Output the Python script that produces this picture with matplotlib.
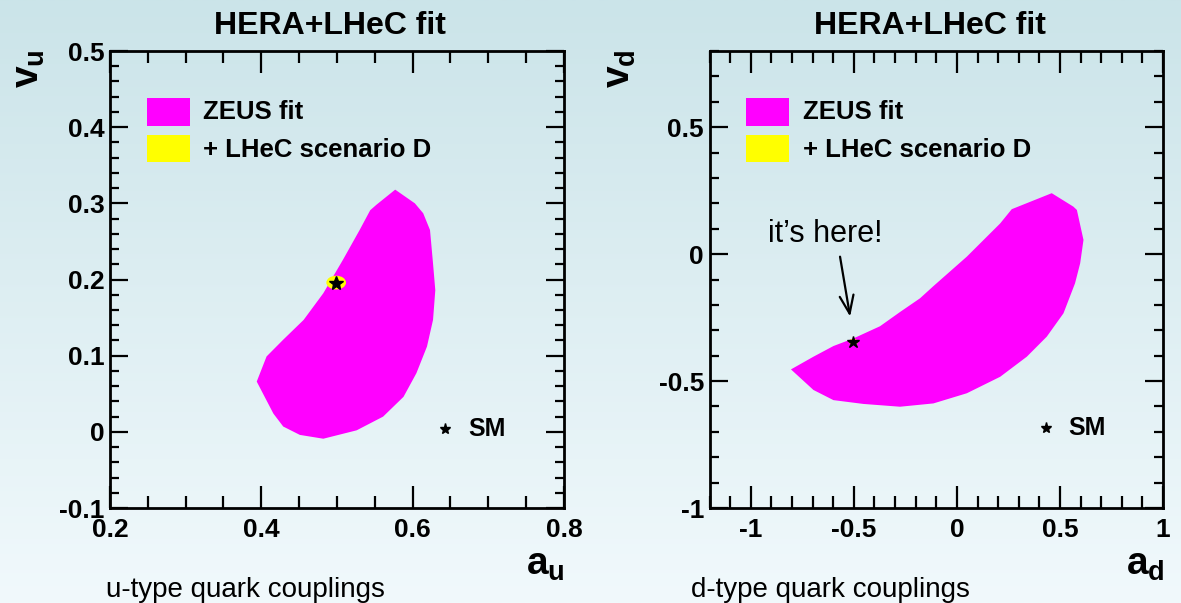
import numpy as np
import matplotlib
matplotlib.use("Agg")
import matplotlib.pyplot as plt
from matplotlib.colors import LinearSegmentedColormap
from matplotlib.patches import Polygon, Ellipse, Rectangle
from matplotlib.ticker import MultipleLocator, FuncFormatter

plt.rcParams['font.family'] = ['Liberation Sans', 'DejaVu Sans']
plt.rcParams['axes.unicode_minus'] = False
plt.rcParams['mathtext.fontset'] = 'custom'
plt.rcParams['mathtext.rm'] = 'Liberation Sans:bold'
plt.rcParams['mathtext.bf'] = 'Liberation Sans:bold'
plt.rcParams['mathtext.it'] = 'Liberation Sans:bold'

# --- data ---
# ZEUS fit contour, u-type (a_u, v_u)
zeus_u_a = [0.577, 0.603, 0.614, 0.623, 0.627, 0.630, 0.627, 0.619, 0.605, 0.588,
            0.561, 0.526, 0.482, 0.451, 0.429, 0.416, 0.394, 0.407, 0.429, 0.456,
            0.482, 0.508, 0.530, 0.544, 0.552]
zeus_u_v = [0.318, 0.300, 0.287, 0.265, 0.221, 0.186, 0.147, 0.112, 0.077, 0.046,
            0.020, 0.002, -0.009, -0.004, 0.007, 0.024, 0.066, 0.099, 0.121, 0.147,
            0.182, 0.226, 0.265, 0.291, 0.298]
# ZEUS fit contour, d-type (a_d, v_d)
zeus_d_a = [0.460, 0.565, 0.582, 0.614, 0.598, 0.573, 0.517, 0.436, 0.339, 0.210,
            0.048, -0.114, -0.276, -0.454, -0.599, -0.696, -0.805, -0.696, -0.599,
            -0.502, -0.373, -0.276, -0.179, -0.114, 0.048, 0.210, 0.266]
zeus_d_v = [0.240, 0.187, 0.174, 0.056, -0.036, -0.115, -0.233, -0.325, -0.404, -0.483,
            -0.548, -0.588, -0.601, -0.590, -0.575, -0.535, -0.454, -0.404, -0.362,
            -0.332, -0.284, -0.228, -0.174, -0.126, -0.010, 0.121, 0.177]
# LHeC scenario D ellipses: centre and full widths
lhec_u = (0.499, 0.196, 0.026, 0.018)
lhec_d = (-0.502, -0.345, 0.045, 0.022)
# Standard Model points
sm_u = (0.499, 0.196)
sm_d = (-0.502, -0.345)
# SM key markers
sm_key_u = (0.643, 0.004)
sm_key_d = (0.433, -0.686)
# annotation arrow (start, tip)
arrow_d = ((-0.567, -0.010), (-0.518, -0.246))

fig = plt.figure(figsize=(11.81, 6.03), dpi=100)

# gradient background
bg = fig.add_axes([0, 0, 1, 1], zorder=-10)
grad = LinearSegmentedColormap.from_list("bg", ['#f1f9fc', '#cbe4e9'])
bg.imshow(np.linspace(0, 1, 256).reshape(-1, 1), aspect='auto', cmap=grad,
          origin='lower', extent=[0, 1, 0, 1])
bg.axis('off')


def fmt(v, pos):
    return "%g" % round(v, 6)


def style_axes(ax, xlim, ylim, xmaj, xmin, ymaj, ymin):
    ax.set_facecolor('none')
    ax.set_xlim(*xlim)
    ax.set_ylim(*ylim)
    ax.xaxis.set_major_locator(MultipleLocator(xmaj))
    ax.xaxis.set_minor_locator(MultipleLocator(xmin))
    ax.yaxis.set_major_locator(MultipleLocator(ymaj))
    ax.yaxis.set_minor_locator(MultipleLocator(ymin))
    ax.xaxis.set_major_formatter(FuncFormatter(fmt))
    ax.yaxis.set_major_formatter(FuncFormatter(fmt))
    ax.tick_params(which='both', direction='in', top=True, right=True, width=1.6,
                   labelsize=19)
    ax.tick_params(axis='x', which='major', length=16, pad=7)
    ax.tick_params(axis='x', which='minor', length=8.5)
    ax.tick_params(axis='y', which='major', length=13, pad=4)
    ax.tick_params(axis='y', which='minor', length=6.5)
    for lab in ax.get_xticklabels() + ax.get_yticklabels():
        lab.set_fontweight('bold')
    for s in ax.spines.values():
        s.set_linewidth(2)


def legend_boxes(ax):
    ax.add_patch(Rectangle((0.081, 0.837), 0.095, 0.06, transform=ax.transAxes,
                           fc='#ff00ff', ec='none'))
    ax.add_patch(Rectangle((0.081, 0.757), 0.095, 0.06, transform=ax.transAxes,
                           fc='#ffff00', ec='none'))
    ax.text(0.206, 0.866, "ZEUS fit", transform=ax.transAxes, fontsize=18.5,
            fontweight='bold', va='center', ha='left')
    ax.text(0.206, 0.784, "+ LHeC scenario D", transform=ax.transAxes, fontsize=18.5,
            fontweight='bold', va='center', ha='left')


# ---- left panel: u-type ----
ax1 = fig.add_axes([0.0931, 0.1575, 0.3844, 0.7579])
style_axes(ax1, (0.2, 0.8), (-0.1, 0.5), 0.2, 0.05, 0.1, 0.02)
ax1.add_patch(Polygon(np.column_stack([zeus_u_a, zeus_u_v]), closed=True,
                      fc='#ff00ff', ec='none'))
ax1.add_patch(Ellipse(lhec_u[:2], lhec_u[2], lhec_u[3], fc='#ffff00', ec='none'))
ax1.plot(*sm_u, marker='*', color='black', markersize=10)
ax1.plot(*sm_key_u, marker='*', color='black', markersize=8)
ax1.text(sm_key_u[0] + 0.03, sm_key_u[1], "SM", fontsize=18, fontweight='bold',
         va='center')
legend_boxes(ax1)

# ---- right panel: d-type ----
ax2 = fig.add_axes([0.6008, 0.1575, 0.384, 0.7579])
style_axes(ax2, (-1.2, 1.0), (-1.0, 0.8), 0.5, 0.1, 0.5, 0.1)
ax2.add_patch(Polygon(np.column_stack([zeus_d_a, zeus_d_v]), closed=True,
                      fc='#ff00ff', ec='none'))
ax2.add_patch(Ellipse(lhec_d[:2], lhec_d[2], lhec_d[3], fc='#ffff00', ec='none'))
ax2.plot(*sm_d, marker='*', color='black', markersize=9)
ax2.plot(*sm_key_d, marker='*', color='black', markersize=8)
ax2.text(sm_key_d[0] + 0.105, sm_key_d[1], "SM", fontsize=18, fontweight='bold',
         va='center')
legend_boxes(ax2)
ax2.text(-0.64, 0.08, "it\u2019s here!", fontsize=22, ha='center', va='center')
ax2.annotate("", xy=arrow_d[1], xytext=arrow_d[0],
             arrowprops=dict(arrowstyle='->,head_length=0.65,head_width=0.25',
                             color='black', lw=1.6, shrinkA=0, shrinkB=0,
                             mutation_scale=20))

# titles, axis labels, captions
for xc in (0.279, 0.787):
    fig.text(xc, 0.957, "HERA+LHeC fit", fontsize=23, fontweight='bold',
             ha='center', va='center')
fig.text(0.0245, 0.887, r'$\mathbf{v_u}$', fontsize=28, rotation=90,
         ha='center', va='center')
fig.text(0.525, 0.887, r'$\mathbf{v_d}$', fontsize=28, rotation=90,
         ha='center', va='center')
fig.text(0.478, 0.063, r'$\mathbf{a_u}$', fontsize=28, ha='right', va='center')
fig.text(0.986, 0.063, r'$\mathbf{a_d}$', fontsize=28, ha='right', va='center')
fig.text(0.090, 0.022, "u-type quark couplings", fontsize=20, ha='left', va='center')
fig.text(0.585, 0.022, "d-type quark couplings", fontsize=20, ha='left', va='center')

fig.savefig("out.png", dpi=100)
